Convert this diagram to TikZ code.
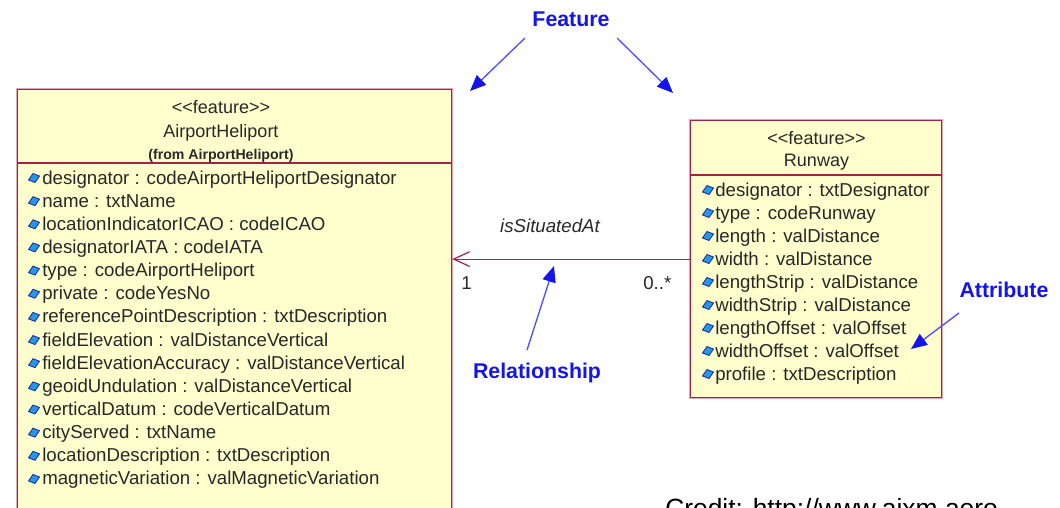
\documentclass[tikz,border=0pt]{standalone}
\usepackage{fontspec}
\setmainfont{Liberation Sans}
\usetikzlibrary{arrows.meta}
\definecolor{boxred}{RGB}{160,35,75}
\definecolor{boxpink}{RGB}{225,165,185}
\definecolor{boxfill}{RGB}{255,255,206}
\definecolor{txtgray}{RGB}{40,40,40}
\definecolor{noteblue}{RGB}{20,20,235}
\definecolor{arrowblue}{RGB}{80,80,255}
\definecolor{gemfill}{RGB}{40,150,230}
\definecolor{gemdraw}{RGB}{20,40,150}
\newcommand\stereo[1]{<\kern0pt<#1>\kern0pt>}
\begin{document}
\begin{tikzpicture}[x=0.75pt,y=-0.75pt,
  umlbox/.style={draw=boxred, line width=0.9pt, preaction={draw=boxpink, line width=2.2pt}, fill=boxfill, inner sep=0pt, anchor=north west},
  divider/.style={draw=boxred, line width=0.9pt, preaction={draw=boxpink, line width=2.0pt}},
  attr/.style={anchor=base west, inner sep=0pt, font=\fontsize{14}{16}\selectfont, text=txtgray},
  head/.style={anchor=base, inner sep=0pt, font=\fontsize{13.5}{16}\selectfont, text=txtgray},
  note/.style={inner sep=0pt, font=\fontsize{16}{19}\selectfont\bfseries, text=noteblue},
  notearrow/.style={draw=arrowblue, line width=1pt, -{Triangle[length=12pt,width=10pt,color=noteblue,fill=noteblue]}},
  assoc/.style={draw=boxred, line width=0.9pt, -{Straight Barb[length=12pt,width=11pt]}},
  gem/.pic={\filldraw[fill=gemfill, draw=gemdraw, line width=0.6pt] (-5.5,2) -- (-1,-4.5) -- (5.5,-2) -- (1,4.5) -- cycle;}
]
\useasboundingbox (0,0) rectangle (1060,507);
\clip (0,0) rectangle (1060,507);

% AirportHeliport class
\node[umlbox, minimum width=325.5pt, minimum height=330pt] (ah) at (17,89) {};
\draw[divider] (ah.west |- 0,163) -- (ah.east |- 0,163);
\node[head] (ahst) at (221,113) {\stereo{feature}};
\node[head] (ahname) at (221,137) {AirportHeliport};
\node[head, font=\fontsize{10.6}{12}\selectfont\bfseries] (ahfrom) at (221,159) {(from AirportHeliport)};
\foreach \t [count=\i] in {designator : codeAirportHeliportDesignator, name : txtName, locationIndicatorICAO : codeICAO, designatorIATA : codeIATA, type : codeAirportHeliport, private : codeYesNo, referencePointDescription : txtDescription, fieldElevation : valDistanceVertical, fieldElevationAccuracy : valDistanceVertical, geoidUndulation : valDistanceVertical, verticalDatum : codeVerticalDatum, cityServed : txtName, locationDescription : txtDescription, magneticVariation : valMagneticVariation}{
  \pic at (34,{178+23.15*(\i-1)}) {gem};
  \node[attr] (aha\i) at (42,{184+23.15*(\i-1)}) {\t};
}

% Runway class
\node[umlbox, minimum width=188.25pt, minimum height=207.75pt] (rw) at (690,120) {};
\draw[divider] (rw.west |- 0,175) -- (rw.east |- 0,175);
\node[head] (rwst) at (816.5,144) {\stereo{feature}};
\node[head] (rwname) at (816.5,166) {Runway};
\foreach \t [count=\i] in {designator : txtDesignator, type : codeRunway, length : valDistance, width : valDistance, lengthStrip : valDistance, widthStrip : valDistance, lengthOffset : valOffset, widthOffset : valOffset, profile : txtDescription}{
  \pic at (708,{190+23*(\i-1)}) {gem};
  \node[attr] (rwa\i) at (715,{196+23*(\i-1)}) {\t};
}

% association
\draw[assoc] (rw.west) -- (rw.west -| ah.east);
\node[inner sep=0pt, font=\fontsize{14}{16}\selectfont\itshape, text=txtgray] (rel) at (550,226) {isSituatedAt};
\node[attr] (m1) at (461,289) {1};
\node[attr] (m2) at (643,289) {0..*};

% annotations
\node[note] (feat) at (571,19) {Feature};
\coordinate (f1a) at (525,38);
\coordinate (f1b) at (470,91);
\coordinate (f2a) at (617,38);
\coordinate (f2b) at (673,93);
\draw[notearrow] (f1a) -- (f1b);
\draw[notearrow] (f2a) -- (f2b);

\node[note] (relnote) at (537,373) {Relationship};
\coordinate (r1a) at (527,350);
\coordinate (r1b) at (554,266);
\draw[notearrow] (r1a) -- (r1b);

\node[note] (attnote) at (1004,290) {Attribute};
\coordinate (a1a) at (959,313);
\coordinate (a1b) at (911,349);
\draw[notearrow] (a1a) -- (a1b);

% credit (cut off at the bottom, as in the reference)
\node[anchor=base west, inner sep=0pt, font=\fontsize{19.8}{22}\selectfont, text=black] (credit) at (665,517) {Credit: http://www.aixm.aero};
\end{tikzpicture}
\end{document}
